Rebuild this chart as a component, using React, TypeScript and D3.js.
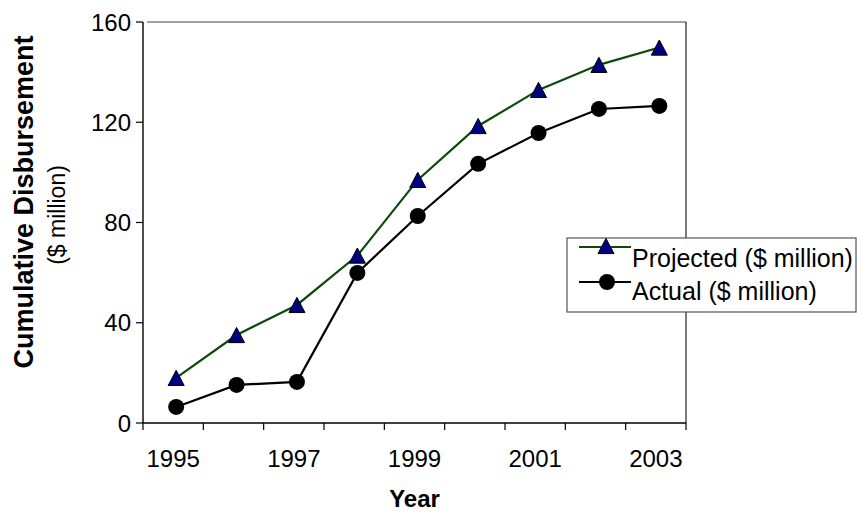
import React from "react";
import * as d3 from "d3";

const years = ["1995", "1996", "1997", "1998", "1999", "2000", "2001", "2002", "2003"];
const projected = [18, 35.1, 47.1, 66.8, 97, 118.5, 132.9, 142.9, 149.8];
const actual = [6.4, 15.2, 16.4, 59.9, 82.6, 103.4, 115.7, 125.3, 126.5];
const yTicks = [0, 40, 80, 120, 160];
const xLabels = ["1995", "1997", "1999", "2001", "2003"];
const seriesNames = ["Projected ($ million)", "Actual ($ million)"];

const W = 857, H = 514;
const L = 143, R = 686, T = 22, B = 423;
const FONT = "'Liberation Sans', Arial, sans-serif";

function tri(cx: number, cy: number, s: number) {
  const h = s * 0.95;
  return `M${cx},${cy - h / 2}L${cx + s / 2},${cy + h / 2}L${cx - s / 2},${cy + h / 2}Z`;
}

export default function App() {
  const band = d3.scaleBand<string>().domain(years).range([L, R]);
  const x = d3.scalePoint<string>().domain(years).range([L + band.bandwidth() / 2 + 3, R - band.bandwidth() / 2 + 3.5]);
  const y = d3.scaleLinear().domain([0, 160]).range([B, T]);
  const line = d3.line<number>().x((_, i) => x(years[i])!).y((d) => y(d));
  const tickXs = [...years.map((yr) => band(yr)!), R];

  return (
    <svg width={W} height={H} style={{ position: "absolute", left: 0, top: 0, background: "#fff" }}>
      <rect x={0} y={0} width={W} height={H} fill="#fff" />
      {/* frame */}
      <line x1={147} y1={T} x2={R} y2={T} stroke="#444" strokeWidth={1.2} />
      <line x1={R} y1={T} x2={R} y2={B} stroke="#222" strokeWidth={1.2} />
      {/* y axis */}
      <line x1={L} y1={T} x2={L} y2={B} stroke="#000" strokeWidth={1.4} />
      {yTicks.map((t) => (
        <g key={t}>
          <line x1={L - 7} y1={y(t)} x2={L} y2={y(t)} stroke="#000" strokeWidth={1.2} />
          <text x={L - 12} y={y(t)} dy="0.36em" textAnchor="end" fontFamily={FONT} fontSize={24}>{t}</text>
        </g>
      ))}
      {/* x axis */}
      <line x1={L} y1={B} x2={R} y2={B} stroke="#000" strokeWidth={1.4} />
      {tickXs.map((tx, i) => (
        <line key={i} x1={tx} y1={B} x2={tx} y2={B + 7} stroke="#000" strokeWidth={1.2} />
      ))}
      {xLabels.map((lb) => (
        <text key={lb} x={band(lb)! + band.bandwidth() / 2} y={467} textAnchor="middle" fontFamily={FONT} fontSize={24}>{lb}</text>
      ))}
      <text x={(L + R) / 2} y={507} textAnchor="middle" fontFamily={FONT} fontSize={24} fontWeight="bold">Year</text>
      <text transform="translate(33,202) rotate(-90)" textAnchor="middle" fontFamily={FONT} fontSize={27} fontWeight="bold">Cumulative Disbursement</text>
      <text transform="translate(65,215) rotate(-90)" textAnchor="middle" fontFamily={FONT} fontSize={23}>($ million)</text>

      {/* series */}
      <path d={line(projected)!} fill="none" stroke="#0a4a0a" strokeWidth={2.2} />
      <path d={line(actual)!} fill="none" stroke="#000" strokeWidth={2.2} />
      {projected.map((v, i) => (
        <path key={"p" + i} d={tri(x(years[i])!, y(v), 16)} fill="#000080" stroke="#000" strokeWidth={1} />
      ))}
      {actual.map((v, i) => (
        <circle key={"a" + i} cx={x(years[i])!} cy={y(v)} r={8} fill="#000" />
      ))}

      {/* legend */}
      <rect x={567} y={238} width={289} height={74} fill="#fff" stroke="#555" strokeWidth={1.2} />
      <line x1={579} y1={247} x2={631} y2={247} stroke="#0a4a0a" strokeWidth={2.2} />
      <path d={tri(606, 246, 16)} fill="#000080" stroke="#000" strokeWidth={1} />
      <text x={632} y={267} fontFamily={FONT} fontSize={25}>{seriesNames[0]}</text>
      <line x1={579} y1={282} x2={631} y2={282} stroke="#000" strokeWidth={2.2} />
      <circle cx={607} cy={282} r={8} fill="#000" />
      <text x={632} y={300} fontFamily={FONT} fontSize={25}>{seriesNames[1]}</text>
    </svg>
  );
}
